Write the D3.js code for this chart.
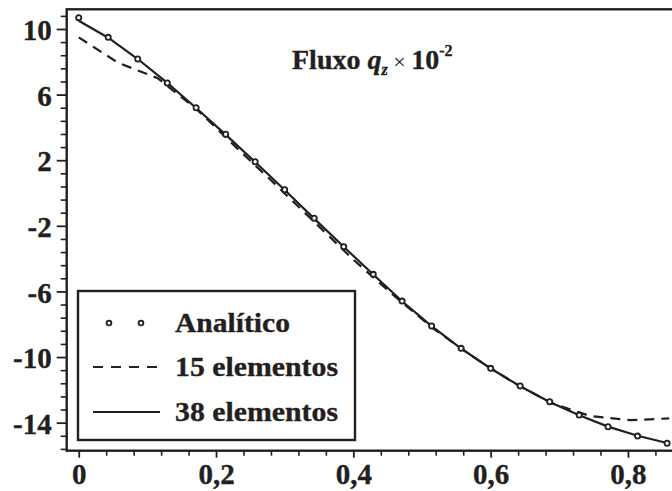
<!DOCTYPE html>
<html>
<head>
<meta charset="utf-8">
<script src="https://cdn.jsdelivr.net/npm/d3@7"></script>
<style>
  body { margin: 0; background: #fff; }
  svg { display: block; }
  text { font-family: "Liberation Serif", "Times New Roman", serif; font-weight: bold; fill: #231f20; stroke: #231f20; stroke-width: 0.35px; }
</style>
</head>
<body>
<svg id="chart" width="672" height="491"></svg>
<script>
const ink = "#231f20";

// tick values / labels
const xTicks = [0, 0.2, 0.4, 0.6, 0.8];
const xTickLabels = ["0", "0,2", "0,4", "0,6", "0,8"];
const yTicks = [10, 6, 2, -2, -6, -10, -14];

// analytic solution (circles)
const xAnalitico = [0, 0.043, 0.086, 0.129, 0.171, 0.214, 0.257, 0.300, 0.343, 0.386, 0.429,
  0.471, 0.514, 0.557, 0.600, 0.643, 0.686, 0.729, 0.771, 0.814, 0.857];
const yAnalitico = [10.69, 9.49, 8.17, 6.71, 5.20, 3.58, 1.91, 0.20, -1.54, -3.27, -4.96,
  -6.59, -8.11, -9.47, -10.69, -11.77, -12.73, -13.54, -14.25, -14.82, -15.26];

// 38 elementos (solid)
const x38 = xAnalitico;
const y38 = [10.50, 9.47, 8.17, 6.71, 5.18, 3.56, 1.89, 0.18, -1.56, -3.28, -4.97,
  -6.60, -8.12, -9.48, -10.70, -11.78, -12.74, -13.55, -14.24, -14.80, -15.24];

// 15 elementos (dashed)
const x15 = [0, 0.057, 0.115, 0.172, 0.229, 0.287, 0.344, 0.401, 0.459, 0.516, 0.573,
  0.631, 0.688, 0.745, 0.803, 0.860];
const y15 = [9.49, 7.95, 7.0, 5.1, 2.8, 0.5, -1.8, -4.1, -6.25, -8.25, -9.95,
  -11.5, -12.8, -13.6, -13.85, -13.74];

const legendLabels = ["Analítico", "15 elementos", "38 elementos"];

const svg = d3.select("#chart");

const x = d3.scaleLinear().domain([-0.0175, 0.8755]).range([66.7, 679.8]);
const y = d3.scaleLinear().domain([-15.71, 11.2]).range([450.7, 9.3]);

const xMinor = d3.range(0, 0.87, 0.04).filter(v => xTicks.every(t => Math.abs(t - v) > 1e-6));
const yMinor = d3.range(-15.6, 11.2, 0.8).filter(v => yTicks.every(t => Math.abs(t - v) > 1e-6));

// minor ticks
svg.append("g")
  .attr("transform", `translate(${x.range()[0]},0)`)
  .call(d3.axisLeft(y).tickValues(yMinor).tickSize(6).tickFormat(""))
  .call(g => g.select(".domain").remove())
  .call(g => g.selectAll("line").attr("stroke", ink).attr("stroke-width", 1.6));

svg.append("g")
  .attr("transform", `translate(0,${y.range()[0]})`)
  .call(d3.axisBottom(x).tickValues(xMinor).tickSize(5).tickFormat(""))
  .call(g => g.select(".domain").remove())
  .call(g => g.selectAll("line").attr("stroke", ink).attr("stroke-width", 1.6));

// major ticks + labels
svg.append("g")
  .attr("transform", `translate(${x.range()[0]},0)`)
  .call(d3.axisLeft(y).tickValues(yTicks).tickSize(10).tickPadding(5).tickFormat(d => String(d)))
  .call(g => g.select(".domain").remove())
  .call(g => g.selectAll("line").attr("stroke", ink).attr("stroke-width", 1.8))
  .call(g => g.selectAll("text").attr("font-size", 29).attr("font-family", null).attr("fill", null).attr("dy", "0.37em"));

svg.append("g")
  .attr("transform", `translate(0,${y.range()[0]})`)
  .call(d3.axisBottom(x).tickValues(xTicks).tickSize(7).tickPadding(6).tickFormat((d, i) => xTickLabels[i]))
  .call(g => g.select(".domain").remove())
  .call(g => g.selectAll("line").attr("stroke", ink).attr("stroke-width", 1.8))
  .call(g => g.selectAll("text").attr("font-size", 29).attr("font-family", null).attr("fill", null));

// frame
svg.append("rect")
  .attr("x", x.range()[0])
  .attr("y", y.range()[1])
  .attr("width", x.range()[1] - x.range()[0])
  .attr("height", y.range()[0] - y.range()[1])
  .attr("fill", "none")
  .attr("stroke", ink)
  .attr("stroke-width", 2.4);

// curves
const line = d3.line().x(d => x(d[0])).y(d => y(d[1]));

svg.append("path")
  .datum(d3.zip(x15, y15))
  .attr("d", line)
  .attr("fill", "none")
  .attr("stroke", ink)
  .attr("stroke-width", 2.2)
  .attr("stroke-dasharray", "10,7");

svg.append("path")
  .datum(d3.zip(x38, y38))
  .attr("d", line)
  .attr("fill", "none")
  .attr("stroke", ink)
  .attr("stroke-width", 2.2);

svg.append("g")
  .selectAll("circle")
  .data(d3.zip(xAnalitico, yAnalitico))
  .enter()
  .append("circle")
  .attr("cx", d => x(d[0]))
  .attr("cy", d => y(d[1]))
  .attr("r", 2.6)
  .attr("fill", "#fff")
  .attr("stroke", ink)
  .attr("stroke-width", 1.8);

// title
const title = svg.append("text")
  .attr("x", 292)
  .attr("y", 69)
  .attr("font-size", 28);
title.append("tspan").text("Fluxo ");
title.append("tspan").attr("font-style", "italic").text("q");
title.append("tspan").attr("font-style", "italic").attr("font-size", 16).attr("dy", 6).text("z");
title.append("tspan").attr("font-weight", "normal").attr("stroke-width", 0).attr("font-size", 22).attr("dy", -6).text(" \u00d7 ");
title.append("tspan").text("10");
title.append("tspan").attr("font-size", 16).attr("dy", -13).text("-2");

// legend
const legend = svg.append("g");
legend.append("rect")
  .attr("x", 78).attr("y", 291)
  .attr("width", 277).attr("height", 149)
  .attr("fill", "#fff")
  .attr("stroke", ink)
  .attr("stroke-width", 2.4);

const rowY = [323, 367, 412];
const labelWidths = [115, 163, 163];

legend.selectAll("circle")
  .data([109, 141])
  .enter()
  .append("circle")
  .attr("cx", d => d)
  .attr("cy", rowY[0])
  .attr("r", 2.4)
  .attr("fill", "#fff")
  .attr("stroke", ink)
  .attr("stroke-width", 1.8);

legend.append("line")
  .attr("x1", 93).attr("x2", 160)
  .attr("y1", rowY[1]).attr("y2", rowY[1])
  .attr("stroke", ink).attr("stroke-width", 2.2)
  .attr("stroke-dasharray", "10,8");

legend.append("line")
  .attr("x1", 93).attr("x2", 160)
  .attr("y1", rowY[2]).attr("y2", rowY[2])
  .attr("stroke", ink).attr("stroke-width", 2.2);

legend.selectAll("text")
  .data(legendLabels)
  .enter()
  .append("text")
  .attr("x", 175)
  .attr("y", (d, i) => rowY[i] + 9)
  .attr("font-size", 28)
  .attr("textLength", (d, i) => labelWidths[i])
  .attr("lengthAdjust", "spacingAndGlyphs")
  .text(d => d);
</script>
</body>
</html>
